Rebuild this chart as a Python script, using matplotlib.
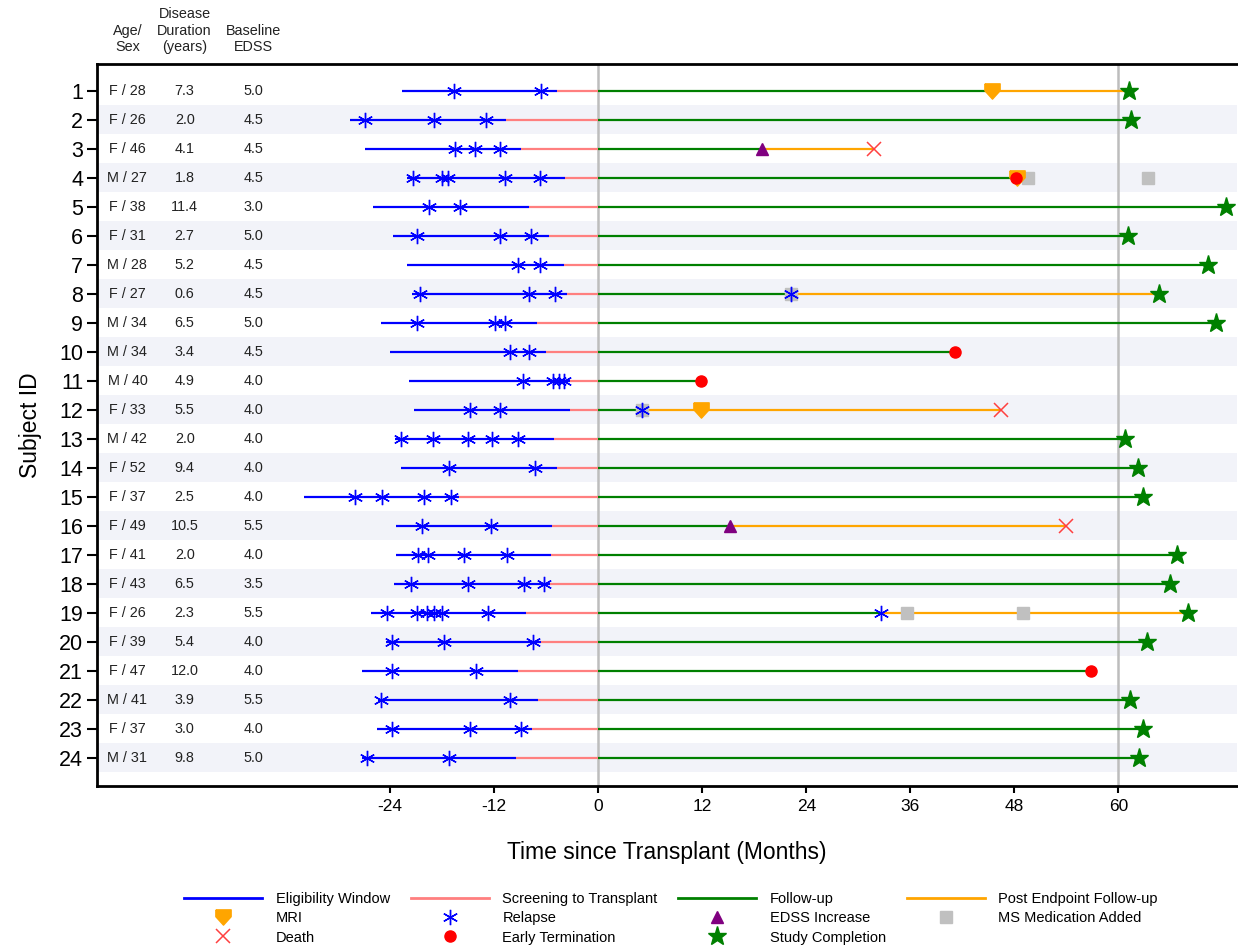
import numpy as np
import matplotlib.pyplot as plt
from matplotlib.lines import Line2D
from matplotlib.transforms import blended_transform_factory

plt.rcParams['font.family'] = ['Liberation Sans', 'DejaVu Sans']
plt.rcParams['axes.unicode_minus'] = False

# ---- data (months since transplant) ----
subject_ids = list(range(1, 25))
age_sex = ['F / 28', 'F / 26', 'F / 46', 'M / 27', 'F / 38', 'F / 31', 'M / 28', 'F / 27',
           'M / 34', 'M / 34', 'M / 40', 'F / 33', 'M / 42', 'F / 52', 'F / 37', 'F / 49',
           'F / 41', 'F / 43', 'F / 26', 'F / 39', 'F / 47', 'M / 41', 'F / 37', 'M / 31']
disease_duration = ['7.3', '2.0', '4.1', '1.8', '11.4', '2.7', '5.2', '0.6', '6.5', '3.4', '4.9', '5.5',
                    '2.0', '9.4', '2.5', '10.5', '2.0', '6.5', '2.3', '5.4', '12.0', '3.9', '3.0', '9.8']
baseline_edss = ['5.0', '4.5', '4.5', '4.5', '3.0', '5.0', '4.5', '4.5', '5.0', '4.5', '4.0', '4.0',
                 '4.0', '4.0', '4.0', '5.5', '4.0', '3.5', '5.5', '4.0', '4.0', '5.5', '4.0', '5.0']

elig_start = [-22.6, -28.6, -26.9, -22.0, -26.0, -23.7, -22.0, -21.5, -25.0, -24.0, -21.8, -21.3,
              -23.4, -22.8, -33.9, -23.3, -23.3, -23.5, -26.2, -24.5, -27.2, -25.4, -25.5, -27.3]
screen_start = [-4.8, -10.6, -8.9, -3.8, -8.0, -5.7, -4.0, -3.6, -7.1, -6.0, -3.2, -3.3,
                -5.1, -4.8, -16.0, -5.3, -5.5, -5.6, -8.3, -6.6, -9.3, -7.0, -7.6, -9.5]
followup_end = [45.4, 61.4, 18.9, 48.2, 72.4, 61.1, 70.3, 22.2, 71.2, 41.2, 11.9, 5.1,
                60.8, 62.2, 62.8, 15.2, 66.8, 65.9, 32.6, 63.3, 56.8, 61.3, 62.8, 62.4]
post_end = [61.2, None, 31.8, None, None, None, None, 64.7, None, None, None, 46.5,
            None, None, None, 54.0, None, None, 68.0, None, None, None, None, None]

relapses = [
    [-16.6, -6.6],
    [-26.9, -18.9, -12.9],
    [-16.5, -14.2, -11.3],
    [-21.4, -18.0, -17.3, -10.8, -6.7],
    [-19.5, -15.9],
    [-20.9, -11.3, -7.7],
    [-9.2, -6.7],
    [-20.5, -8.0, -5.0, 22.2],
    [-20.9, -11.9, -10.8],
    [-10.2, -8.0],
    [-8.7, -5.2, -4.5, -3.9],
    [-14.8, -11.3, 5.1],
    [-22.8, -19.1, -15.0, -12.2, -9.2],
    [-17.2, -7.3],
    [-28.0, -24.9, -20.1, -17.0],
    [-20.3, -12.4],
    [-20.8, -19.6, -15.5, -10.5],
    [-21.6, -15.0, -8.6, -6.2],
    [-24.4, -20.9, -19.8, -18.9, -18.0, -12.7, 32.6],
    [-23.8, -17.8, -7.5],
    [-23.8, -14.1],
    [-25.0, -10.2],
    [-23.8, -14.8, -8.9],
    [-26.7, -17.2],
]

mri_subj, mri_time = [1, 4, 12], [45.4, 48.3, 11.8]
edss_subj, edss_time = [3, 16], [18.9, 15.2]
med_subj, med_time = [4, 4, 8, 12, 19, 19], [49.6, 63.4, 22.2, 5.1, 35.6, 49.0]
death_subj, death_time = [3, 12, 16], [31.8, 46.5, 54.0]
term_subj, term_time = [4, 10, 11, 21], [48.2, 41.2, 11.9, 56.8]
comp_subj = [1, 2, 5, 6, 7, 8, 9, 13, 14, 15, 17, 18, 19, 20, 22, 23, 24]
comp_time = [61.2, 61.4, 72.4, 61.1, 70.3, 64.7, 71.2, 60.8, 62.2, 62.8, 66.8, 65.9, 68.0,
             63.3, 61.3, 62.8, 62.4]

# ---- styles ----
c_elig = '#0000FF'
c_screen = '#FF7F7F'
c_fu = '#008000'
c_post = '#FFA500'
band = '#F2F3F9'
lw = 1.6
mri_marker = [(-1, 1), (1, 1), (1, 0.1), (0, -1), (-1, 0.1), (-1, 1)]
relapse_marker = (6, 2, 0)

fig = plt.figure(figsize=(12.38, 9.47), dpi=100)
ax = fig.add_axes([0.0784, 0.170, 0.921, 0.7626])

y = np.array(subject_ids)
for s in subject_ids:
    if s % 2 == 0:
        ax.axhspan(s - 0.5, s + 0.5, color=band, lw=0, zorder=0)

ax.axvline(0, color='#BDBDBD', lw=1.8, zorder=1)
ax.axvline(60, color='#BDBDBD', lw=1.8, zorder=1)

ax.hlines(y, elig_start, screen_start, colors=c_elig, lw=lw, zorder=2)
ax.hlines(y, screen_start, 0, colors=c_screen, lw=lw, zorder=2)
ax.hlines(y, 0, followup_end, colors=c_fu, lw=lw, zorder=2)
for s, a, b in zip(subject_ids, followup_end, post_end):
    if b is not None:
        ax.hlines(s, a, b, colors=c_post, lw=lw, zorder=2)

ax.plot(med_time, med_subj, ls='none', marker='s', ms=9, color='#C0C0C0', zorder=3)
ax.plot(mri_time, mri_subj, ls='none', marker=mri_marker, ms=11, color=c_post, zorder=4)
rx = [t for r in relapses for t in r]
ry = [s for s, r in zip(subject_ids, relapses) for _ in r]
ax.plot(rx, ry, ls='none', marker=relapse_marker, ms=11, mew=1.0, color=c_elig, zorder=5)
ax.plot(edss_time, edss_subj, ls='none', marker='^', ms=9, color='#800080', zorder=5)
ax.plot(death_time, death_subj, ls='none', marker='x', ms=10, mew=1.1, color='#FF4040', zorder=5)
ax.plot(term_time, term_subj, ls='none', marker='o', ms=8, color='red', zorder=6)
ax.plot(comp_time, comp_subj, ls='none', marker='*', ms=14, color='green', zorder=6)

# ---- baseline table ----
col_x = [-54.3, -47.7, -39.8]
for s, a, d, e in zip(subject_ids, age_sex, disease_duration, baseline_edss):
    for cx, txt in zip(col_x, [a, d, e]):
        ax.text(cx, s, txt, ha='center', va='center', fontsize=10.4, color='#222222')
trans = blended_transform_factory(ax.transData, ax.transAxes)
for cx, head in zip(col_x, ['Age/\nSex', 'Disease\nDuration\n(years)', 'Baseline\nEDSS']):
    ax.text(cx, 1.013, head, transform=trans, ha='center', va='bottom', fontsize=10.4,
            linespacing=1.25, color='#222222')

ax.set_xlim(-57.8, 73.7)
ax.set_ylim(24.97, 0.07)
ax.set_xticks([-24, -12, 0, 12, 24, 36, 48, 60])
ax.set_yticks(subject_ids)
ax.tick_params(axis='y', labelsize=15.5, length=7, width=1.5, pad=3)
ax.tick_params(axis='x', labelsize=12.5, length=5, width=1.5, pad=4)
ax.set_xlabel('Time since Transplant (Months)', fontsize=16.5, labelpad=20)
ax.set_ylabel('Subject ID', fontsize=16.5, labelpad=12)
for sp in ['left', 'bottom', 'top']:
    ax.spines[sp].set_linewidth(2)
ax.spines['right'].set_visible(False)

# ---- legend ----
handles = [
    Line2D([], [], color=c_elig, lw=2, label='Eligibility Window'),
    Line2D([], [], ls='none', marker=mri_marker, ms=11, color=c_post, label='MRI'),
    Line2D([], [], ls='none', marker='x', ms=10, mew=1.1, color='#FF4040', label='Death'),
    Line2D([], [], color=c_screen, lw=2, label='Screening to Transplant'),
    Line2D([], [], ls='none', marker=relapse_marker, ms=11, mew=1.0, color=c_elig, label='Relapse'),
    Line2D([], [], ls='none', marker='o', ms=8, color='red', label='Early Termination'),
    Line2D([], [], color=c_fu, lw=2, label='Follow-up'),
    Line2D([], [], ls='none', marker='^', ms=9, color='#800080', label='EDSS Increase'),
    Line2D([], [], ls='none', marker='*', ms=14, color='green', label='Study Completion'),
    Line2D([], [], color=c_post, lw=2, label='Post Endpoint Follow-up'),
    Line2D([], [], ls='none', marker='s', ms=9, color='#C0C0C0', label='MS Medication Added'),
]
fig.legend(handles=handles, ncol=4, loc='upper center', bbox_to_anchor=(0.542, 0.066),
           frameon=False, fontsize=10.5, handlelength=5.35, handletextpad=0.95,
           columnspacing=1.4, labelspacing=0.37, borderpad=0)

fig.savefig('out.png', dpi=100)
